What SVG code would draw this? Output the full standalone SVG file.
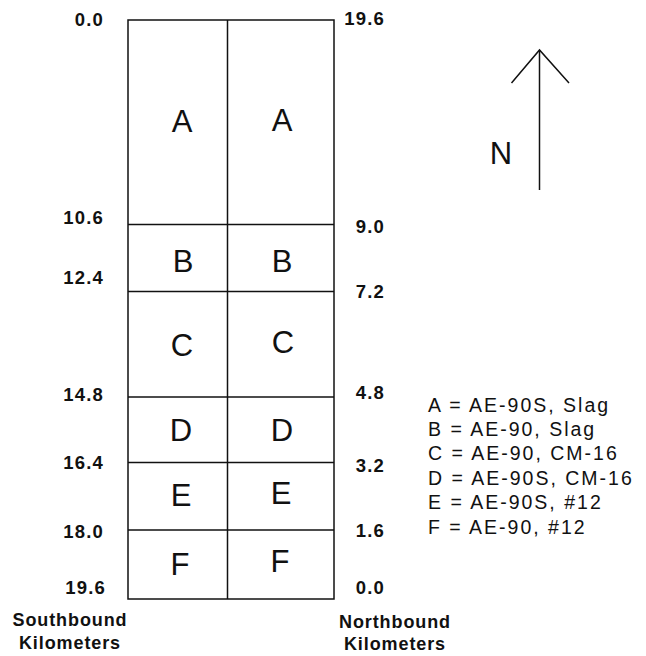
<svg xmlns="http://www.w3.org/2000/svg" width="646" height="656" viewBox="0 0 646 656">
<style>
.ln{stroke:#111;stroke-width:1.5;fill:none}
.num{font-family:"Liberation Sans",Arial,sans-serif;font-size:18.5px;font-weight:bold;letter-spacing:1.2px;fill:#111}
.cap{font-family:"Liberation Sans",Arial,sans-serif;font-size:18px;font-weight:bold;letter-spacing:0.9px;fill:#111;text-anchor:middle}
.big{font-family:"Liberation Sans",Arial,sans-serif;font-size:31px;fill:#111;text-anchor:middle}
.leg{font-family:"Liberation Sans",Arial,sans-serif;font-size:19.5px;letter-spacing:2px;fill:#111}
</style>
<rect width="646" height="656" fill="#fff"/>
<g id="grid">
<rect class="ln" x="128" y="20" width="206" height="579"/>
<line class="ln" x1="227.5" y1="20" x2="227.5" y2="599"/>
<line class="ln" x1="128" y1="224.5" x2="334" y2="224.5"/>
<line class="ln" x1="128" y1="291.5" x2="334" y2="291.5"/>
<line class="ln" x1="128" y1="397" x2="334" y2="397"/>
<line class="ln" x1="128" y1="462.5" x2="334" y2="462.5"/>
<line class="ln" x1="128" y1="530" x2="334" y2="530"/>
</g>
<g id="cells">
<text class="big" x="182" y="132">A</text><text class="big" x="282" y="131">A</text>
<text class="big" x="183" y="272">B</text><text class="big" x="282" y="272">B</text>
<text class="big" x="182" y="356">C</text><text class="big" x="283" y="353">C</text>
<text class="big" x="181" y="441">D</text><text class="big" x="282" y="441">D</text>
<text class="big" x="181" y="506">E</text><text class="big" x="281" y="504">E</text>
<text class="big" x="180" y="575">F</text><text class="big" x="280" y="572">F</text>
</g>
<g id="south-km" class="num" text-anchor="end">
<text x="104" y="26">0.0</text>
<text x="104" y="224">10.6</text>
<text x="104" y="284">12.4</text>
<text x="104" y="401">14.8</text>
<text x="104" y="469">16.4</text>
<text x="104" y="538">18.0</text>
<text x="106" y="594">19.6</text>
</g>
<g id="north-km" class="num" text-anchor="end">
<text x="385" y="25">19.6</text>
<text x="385" y="233">9.0</text>
<text x="385" y="298">7.2</text>
<text x="385" y="399">4.8</text>
<text x="385" y="472">3.2</text>
<text x="385" y="537">1.6</text>
<text x="385" y="594">0.0</text>
</g>
<g id="axis-labels">
<text class="cap" x="70" y="626">Southbound</text>
<text class="cap" x="70" y="649">Kilometers</text>
<text class="cap" x="395" y="628">Northbound</text>
<text class="cap" x="395" y="650">Kilometers</text>
</g>
<g id="north-arrow">
<line class="ln" x1="539.5" y1="50" x2="539.5" y2="190"/>
<polyline class="ln" points="511.5,83 539.5,50 569,83"/>
<text class="big" font-size="28" x="501" y="164">N</text>
</g>
<g id="legend" class="leg">
<text x="428" y="412">A = AE-90S, Slag</text>
<text x="428" y="436">B = AE-90, Slag</text>
<text x="428" y="460">C = AE-90, CM-16</text>
<text x="428" y="485">D = AE-90S, CM-16</text>
<text x="428" y="509">E = AE-90S, #12</text>
<text x="428" y="534">F = AE-90, #12</text>
</g>
</svg>
